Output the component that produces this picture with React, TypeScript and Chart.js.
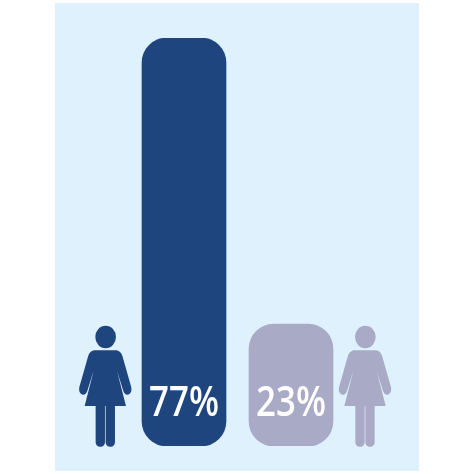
import React, { useEffect, useRef } from 'react';
import { Chart, registerables } from 'chart.js';

Chart.register(...registerables);

const categories = ['A', 'B'];
const shares = [77, 23];
const shareLabels = ['77%', '23%'];
const barColors = ['#1f457f', '#a9aac6'];
const iconOffsets = [-78.7, 74];

const PANEL = '#dff1fd';

// woman pictogram, drawn around its own centre line
const drawWoman = (ctx: CanvasRenderingContext2D, cx: number, color: string) => {
  ctx.save();
  ctx.translate(cx, 300);
  ctx.scale(1 / 3, 1 / 3);
  ctx.fillStyle = color;

  // head
  ctx.beginPath();
  ctx.ellipse(1, 111, 31, 34, 0, 0, Math.PI * 2);
  ctx.fill();

  // dress and arms
  ctx.beginPath();
  ctx.moveTo(-34, 151);
  ctx.lineTo(34, 151);
  ctx.quadraticCurveTo(47, 153, 52, 170);
  ctx.lineTo(78, 262);
  ctx.quadraticCurveTo(81, 281, 68, 284);
  ctx.quadraticCurveTo(58, 285, 54, 273);
  ctx.lineTo(35, 212);
  ctx.lineTo(62, 318);
  ctx.lineTo(-62, 318);
  ctx.lineTo(-35, 212);
  ctx.lineTo(-54, 273);
  ctx.quadraticCurveTo(-58, 285, -68, 284);
  ctx.quadraticCurveTo(-81, 281, -78, 262);
  ctx.lineTo(-52, 170);
  ctx.quadraticCurveTo(-47, 153, -34, 151);
  ctx.closePath();
  ctx.fill();

  // legs
  ctx.beginPath();
  ctx.roundRect(-29, 310, 28, 130, [0, 0, 13, 13]);
  ctx.roundRect(1, 310, 28, 130, [0, 0, 13, 13]);
  ctx.fill();
  ctx.restore();
};

const panelPlugin = {
  id: 'panel',
  beforeDraw(chart: Chart) {
    const { ctx } = chart;
    ctx.save();
    ctx.fillStyle = PANEL;
    ctx.fillRect(55, 3, 364, 468);
    ctx.restore();
  },
};

const decorPlugin = {
  id: 'decor',
  afterDatasetsDraw(chart: Chart) {
    const { ctx } = chart;
    const bars = chart.getDatasetMeta(0).data;
    bars.forEach((bar, i) => {
      drawWoman(ctx, bar.x + iconOffsets[i], barColors[i]);
      ctx.save();
      ctx.translate(bar.x, 416);
      ctx.scale(0.85, 1);
      ctx.fillStyle = '#ffffff';
      ctx.font = '600 41px "Open Sans"';
      ctx.textAlign = 'center';
      ctx.textBaseline = 'alphabetic';
      ctx.fillText(shareLabels[i], 0, 0);
      ctx.restore();
    });
  },
};

const App: React.FC = () => {
  const chartRef = useRef<HTMLCanvasElement>(null);

  useEffect(() => {
    if (!chartRef.current) return;
    const chart = new Chart(chartRef.current, {
      type: 'bar',
      data: {
        labels: categories,
        datasets: [{
          data: shares,
          backgroundColor: barColors,
          borderRadius: 25,
          borderSkipped: false,
          barThickness: 84,
        }],
      },
      options: {
        animation: false,
        responsive: false,
        layout: { padding: { left: 130.5, right: 129.5, top: 38, bottom: 28 } },
        plugins: { legend: { display: false }, tooltip: { enabled: false } },
        scales: {
          x: { display: false },
          y: { display: false, min: 0, max: 77 },
        },
      },
      plugins: [panelPlugin, decorPlugin],
    });
    return () => chart.destroy();
  }, []);

  return (
    <div style={{ position: 'fixed', left: 0, top: 0, width: 474, height: 474, background: '#fff' }}>
      <canvas ref={chartRef} width={474} height={474} style={{ display: 'block' }}></canvas>
    </div>
  );
};

export default App;
